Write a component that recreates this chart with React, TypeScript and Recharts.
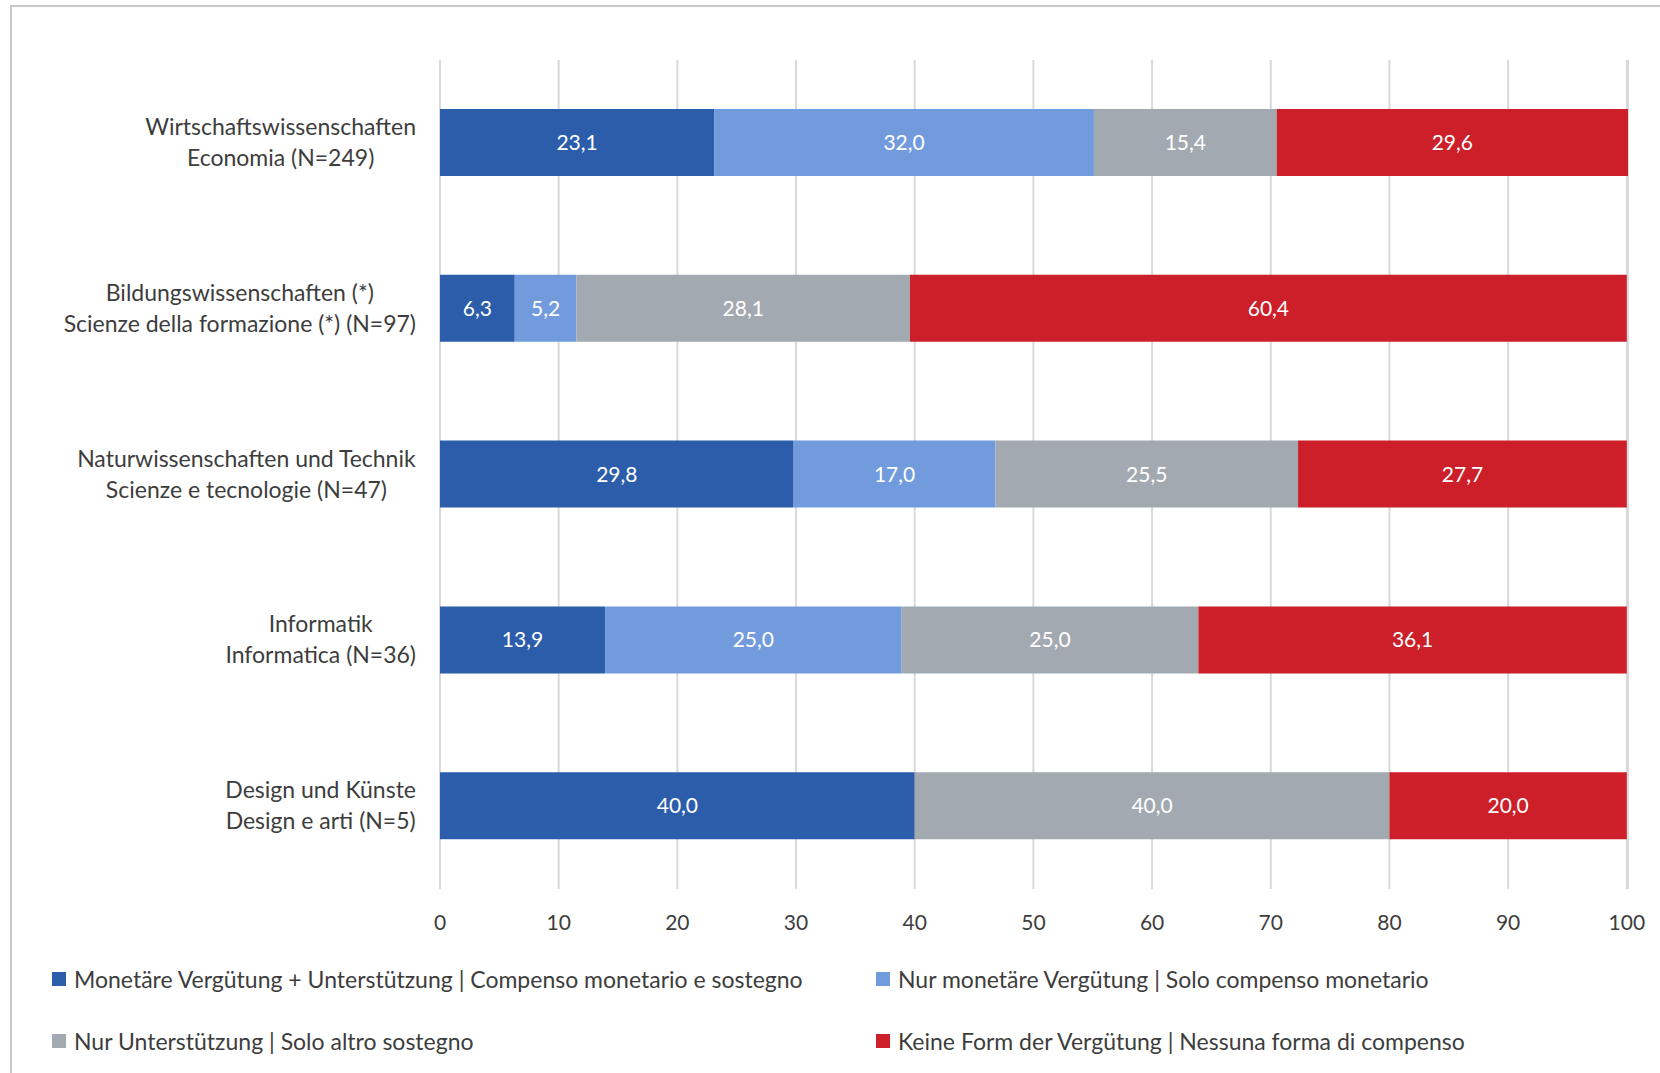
import React from "react";
import {
  BarChart,
  Bar,
  XAxis,
  YAxis,
  CartesianGrid,
  LabelList,
  Legend,
} from "recharts";

const fieldsDe = [
  "Wirtschaftswissenschaften",
  "Bildungswissenschaften (*)",
  "Naturwissenschaften und Technik",
  "Informatik",
  "Design und Künste",
];
const fieldsIt = [
  "Economia (N=249)",
  "Scienze della formazione (*) (N=97)",
  "Scienze e tecnologie (N=47)",
  "Informatica (N=36)",
  "Design e arti (N=5)",
];

const monetaryAndSupport = [23.1, 6.3, 29.8, 13.9, 40.0];
const monetaryOnly = [32.0, 5.2, 17.0, 25.0, 0];
const supportOnly = [15.4, 28.1, 25.5, 25.0, 40.0];
const noCompensation = [29.6, 60.4, 27.7, 36.1, 20.0];

const xTicks = [0, 10, 20, 30, 40, 50, 60, 70, 80, 90, 100];

const seriesNames = [
  "Monetäre Vergütung + Unterstützung | Compenso monetario e sostegno",
  "Nur monetäre Vergütung | Solo compenso monetario",
  "Nur Unterstützung | Solo altro sostegno",
  "Keine Form der Vergütung | Nessuna forma di compenso",
];
const seriesKeys = ["both", "money", "support", "none"];
const colors = ["#2c5daa", "#729bde", "#a3a9b0", "#cc1f29"];

const rows = fieldsDe.map((de, i) => ({
  name: de,
  sub: fieldsIt[i],
  both: monetaryAndSupport[i],
  money: monetaryOnly[i],
  support: supportOnly[i],
  none: noCompensation[i],
}));

const FONT = "Lato, 'Open Sans', sans-serif";
const TEXT = "#3d3d3d";
const LABEL_SIZE = 23;

const fmt = (v: any) => (v ? Number(v).toFixed(1).replace(".", ",") : "");

let ctx: CanvasRenderingContext2D | null = null;
function textWidth(s: string) {
  if (!ctx) ctx = document.createElement("canvas").getContext("2d");
  if (!ctx) return s.length * LABEL_SIZE * 0.5;
  ctx.font = `${LABEL_SIZE}px ${FONT}`;
  return ctx.measureText(s).width;
}

// two-line label, lines centred on each other, block right-aligned
function CategoryTick(props: any) {
  const { x, y, payload } = props;
  const row = rows.find((r) => r.name === payload.value);
  const sub = row ? row.sub : "";
  const w = Math.max(textWidth(payload.value), textWidth(sub));
  const cx = x - w / 2;
  return (
    <text
      x={cx}
      y={y}
      textAnchor="middle"
      fill={TEXT}
      fontSize={LABEL_SIZE}
      fontFamily={FONT}
    >
      <tspan x={cx} dy={-8}>
        {payload.value}
      </tspan>
      <tspan x={cx} dy={31}>
        {sub}
      </tspan>
    </text>
  );
}

function LegendBox() {
  return (
    <div
      style={{
        display: "grid",
        gridTemplateColumns: "824px 760px",
        paddingLeft: 52,
        height: 130,
        fontFamily: FONT,
        fontSize: LABEL_SIZE,
        color: TEXT,
      }}
    >
      {[0, 1, 2, 3].map((i) => (
        <div
          key={i}
          style={{
            display: "flex",
            alignItems: "center",
            height: 62,
            marginTop: i < 2 ? 9 : 0,
          }}
        >
          <span
            style={{
              display: "inline-block",
              width: 14,
              height: 14,
              background: colors[i],
              marginRight: 8,
            }}
          />
          <span>{seriesNames[i]}</span>
        </div>
      ))}
    </div>
  );
}

export default function App() {
  return (
    <div
      style={{
        position: "absolute",
        left: 0,
        top: 0,
        width: 1660,
        height: 1073,
        background: "#fff",
        overflow: "hidden",
      }}
    >
      <div
        style={{
          position: "absolute",
          left: 10,
          top: 5,
          right: -10,
          bottom: -10,
          borderTop: "2px solid #c8c8c8",
          borderLeft: "2px solid #c8c8c8",
        }}
      />
      <BarChart
        width={1660}
        height={1073}
        data={rows}
        layout="vertical"
        margin={{ top: 60, right: 32, bottom: 4, left: 0 }}
        barSize={67}
      >
        <CartesianGrid
          horizontal={false}
          stroke="#d9d9d9"
          strokeWidth={2}
        />
        <XAxis
          type="number"
          domain={[0, 100]}
          ticks={xTicks}
          height={50}
          axisLine={false}
          tickLine={false}
          tickSize={0}
          tickMargin={26}
          tick={{ fontSize: 21, fill: TEXT, fontFamily: FONT }}
          interval={0}
        />
        <YAxis
          type="category"
          dataKey="name"
          width={440}
          axisLine={false}
          tickLine={false}
          tickSize={0}
          tickMargin={24}
          tick={<CategoryTick />}
          interval={0}
        />
        <Legend verticalAlign="bottom" content={() => <LegendBox />} />
        {seriesKeys.map((k, i) => (
          <Bar
            key={k}
            dataKey={k}
            name={seriesNames[i]}
            stackId="a"
            fill={colors[i]}
            isAnimationActive={false}
          >
            <LabelList
              dataKey={k}
              position="center"
              formatter={fmt}
              fill="#ffffff"
              fontSize={21}
              fontFamily={FONT}
            />
          </Bar>
        ))}
      </BarChart>
    </div>
  );
}
